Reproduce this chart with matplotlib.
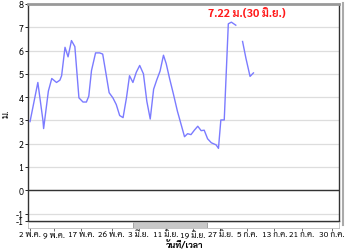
import matplotlib
matplotlib.use("Agg")
import matplotlib.pyplot as plt
import numpy as np
from matplotlib import font_manager
from matplotlib.ft2font import FT2Font

# ---------------- data ----------------
# day offset from 2 May, water level (m)
days = [0, 2.3, 3.8, 4.0, 5.4, 6.4, 7.8, 8.8, 9.3, 10.3, 11.2, 12.2, 13.2, 14.4,
        15.6, 16.6, 17.3, 18.1, 19.3, 20.5, 21.4, 22.3, 23.3, 24.4, 25.4, 26.4,
        27.4, 28.4, 29.3, 30.3, 31.3, 32.3, 33.4, 34.4, 35.4, 36.4, 37.3, 38.3,
        39.3, 40.1, 41.1, 42.2, 43.4, 45.5, 46.4, 47.4, 48.4, 49.4, 50.4, 51.3,
        52.3, 53.4, 54.8, 55.5, 56.2, 57.2, 58.4, 59.3, 60.6, 61.6, 62.6, 63.6,
        64.8, 65.8]
levels = [2.95, 4.63, 3.0, 2.65, 4.26, 4.8, 4.63, 4.73, 4.92, 6.14, 5.73, 6.43,
          6.17, 3.97, 3.79, 3.79, 4.04, 5.14, 5.9, 5.9, 5.85, 5.07, 4.19, 3.97,
          3.68, 3.21, 3.12, 3.97, 4.92, 4.63, 5.07, 5.36, 5.0, 3.82, 3.06, 4.34,
          4.73, 5.12, 5.8, 5.44, 4.8, 4.15, 3.4, 2.3, 2.43, 2.39, 2.58, 2.75,
          2.56, 2.58, 2.21, 2.04, 1.95, 1.80, 3.02, 3.02, 7.15, 7.22, 7.09,
          np.nan, 6.39, 5.66, 4.89, 5.04]

tick_days = [0, 7, 15, 24, 32, 40, 48, 56, 64, 72, 80, 89]
tick_labels = ["2 พ.ค.", "9 พ.ค.", "17 พ.ค.", "26 พ.ค.", "3 มิ.ย.", "11 มิ.ย.",
               "19 มิ.ย.", "27 มิ.ย.", "5 ก.ค.", "13 ก.ค.", "21 ก.ค.", "30 ก.ค."]
y_ticks = [-1.32, -1, 0, 1, 2, 3, 4, 5, 6, 7, 8]
y_tick_labels = ["-1", "-1", "0", "1", "2", "3", "4", "5", "6", "7", "8"]
peak_text = "7.22 ม.(30 มิ.ย.)"
peak_day, peak_level = 59.3, 7.22

# ---------------- fonts ----------------
thai = {}
for f in font_manager.fontManager.ttflist:
    if "[" in f.fname:
        continue
    try:
        if 0x0E01 in FT2Font(f.fname).get_charmap():
            thai.setdefault(f.name, f.fname)
    except Exception:
        pass
pref = ["Sarabun", "Noto Sans Thai", "Noto Sans Thai UI", "IBM Plex Sans Thai",
        "Bai Jamjuree", "Athiti", "K2D", "Niramit"]
thai_family = next((p for p in pref if p in thai), next(iter(thai), None))
plt.rcParams["font.family"] = ([thai_family] if thai_family else []) + ["DejaVu Sans"]

# ---------------- figure ----------------
W, H = 350, 251
fig = plt.figure(figsize=(W / 100, H / 100), dpi=100)
fig.patch.set_facecolor("white")

L, R, T, B = 28, 339, 5, 222
XMIN, XMAX = -0.6, 91
ax = fig.add_axes([L / W, 1 - B / H, (R - L) / W, (B - T) / H])
ax.set_xlim(XMIN, XMAX)
ax.set_ylim(-1.32, 8)

for v in range(-1, 8):
    ax.axhline(v, color="#dddddd", lw=0.9, zorder=1)
ax.axhline(0, color="#333333", lw=1.0, zorder=2)

ax.plot(days, levels, color="#7b7bff", lw=1.0, zorder=3)

ax.text(peak_day + 4.7, peak_level + 0.12, peak_text, color="#ff1a1a",
        fontsize=8, fontweight="bold", ha="center", va="bottom", zorder=4)

ax.set_yticks(y_ticks)
ax.set_yticklabels(y_tick_labels, fontsize=6.5)
ax.tick_params(axis="y", length=2, pad=1, width=0.6)
ax.set_xticks([])
ax.set_ylabel("ม.", fontsize=7, labelpad=4)

for s in ["left", "bottom"]:
    ax.spines[s].set_color("#333333")
    ax.spines[s].set_linewidth(1.0)
ax.spines["top"].set_color("#999999")
ax.spines["top"].set_linewidth(2.0)
ax.spines["right"].set_color("#333333")
ax.spines["right"].set_linewidth(1.0)

# outer gray right edge
fig.add_artist(plt.Line2D([(R + 3.5) / W] * 2, [1 - 226 / H, 1 - 4 / H],
                          color="#aaaaaa", lw=1.5, transform=fig.transFigure))

# scrollbar axis with date ticks
sb = fig.add_axes([L / W, 1 - 229 / H, (R - L) / W, 6 / H])
sb.set_xlim(XMIN, XMAX)
sb.set_ylim(0, 1)
sb.set_yticks([])
sb.axvspan(30.2, 52.2, color="#c8c8c8", ec="#999999", lw=0.6)
for s in sb.spines.values():
    s.set_color("#bbbbbb")
    s.set_linewidth(0.6)
sb.set_xticks(tick_days)
sb.set_xticklabels(tick_labels, fontsize=6.0)
sb.tick_params(axis="x", length=2.0, width=0.6, pad=-0.5, color="#555555")

fig.text(185 / W, 0.5 / H, "วันที่/เวลา", fontsize=6.3, fontweight="bold",
         ha="center", va="bottom")

fig.savefig("out.png", dpi=100)
